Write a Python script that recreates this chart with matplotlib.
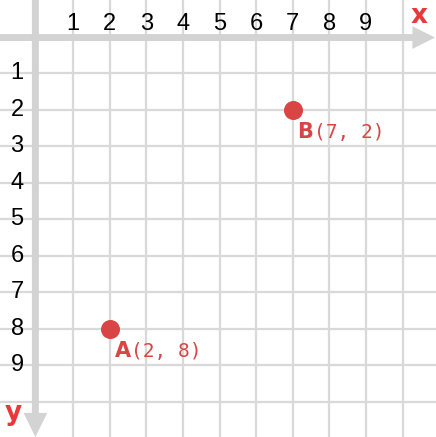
import matplotlib
matplotlib.use("Agg")
import matplotlib.pyplot as plt

# Data
point_names = ["A", "B"]
point_x = [2, 7]
point_y = [8, 2]
x_ticks = [1, 2, 3, 4, 5, 6, 7, 8, 9]
y_ticks = [1, 2, 3, 4, 5, 6, 7, 8, 9]
grid_vals = [1, 2, 3, 4, 5, 6, 7, 8, 9, 10]

GRID = "#d9d9d9"
AXIS = "#d3d3d3"
RED = "#d94545"
RED2 = "#e8383a"

fig = plt.figure(figsize=(4.36, 4.37), dpi=100)
ax = fig.add_axes([0, 0, 1, 1])
ax.set_axis_off()
xmin, xmax = -0.997, 10.915
ymin, ymax = -0.997, 10.956
ax.set_xlim(xmin, xmax)
ax.set_ylim(ymax, ymin)

# grid
for g in grid_vals:
    ax.plot([g, g], [ymin, ymax], color=GRID, lw=1.6, zorder=1, solid_capstyle="butt")
    ax.plot([xmin, xmax], [g, g], color=GRID, lw=1.6, zorder=1, solid_capstyle="butt")

# axes with arrows
ax.arrow(xmin, 0.03, 10.89 - xmin, 0, width=0.19, head_width=0.62, head_length=0.62,
         length_includes_head=True, color=AXIS, lw=0, zorder=2)
ax.arrow(-0.03, ymin, 0, ymax - ymin, width=0.19, head_width=0.65, head_length=0.66,
         length_includes_head=True, color=AXIS, lw=0, zorder=2)

# tick labels
for t in x_ticks:
    ax.text(t, -0.33, str(t), ha="center", va="center", fontsize=17,
            family="Liberation Sans", color="black", zorder=3)
for t in y_ticks:
    ax.text(-0.53, t, str(t), ha="center", va="center", fontsize=17,
            family="Liberation Sans", color="black", zorder=3)

# axis names
ax.text(10.45, -0.55, "x", ha="center", va="center", fontsize=19, fontweight="bold",
        family="DejaVu Sans", color=RED2, zorder=3)
ax.text(-0.62, 10.3, "y", ha="center", va="center", fontsize=19, fontweight="bold",
        family="DejaVu Sans", color=RED2, zorder=3)

# points
ax.plot(point_x, point_y, "o", color=RED, markersize=13.7, markeredgewidth=0, zorder=4)
for n, px, py in zip(point_names, point_x, point_y):
    t1 = ax.annotate(n, xy=(px, py), xytext=(3.5, -20.5), textcoords="offset points",
                     ha="left", va="baseline", fontsize=15, fontweight="bold",
                     family="DejaVu Sans", color=RED, zorder=5)
    ax.annotate(f"({px}, {py})", xy=(1, 0), xycoords=t1, xytext=(0.5, 0),
                textcoords="offset points", ha="left", va="bottom", fontsize=14,
                family="DejaVu Sans Mono", color=RED, zorder=5)

fig.savefig("out.png", dpi=100)
